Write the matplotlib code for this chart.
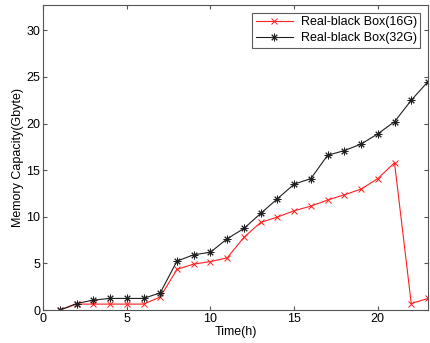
import matplotlib
matplotlib.use('Agg')
import matplotlib.pyplot as plt

plt.rcParams.update({
    'font.family': 'Liberation Sans', 'font.size': 9,
    'xtick.direction': 'in', 'ytick.direction': 'in',
    'xtick.top': True, 'ytick.right': True,
    'xtick.major.size': 3, 'ytick.major.size': 3,
})

hours = list(range(1, 24))
box_16g = [0, 0.64, 0.64, 0.64, 0.64, 0.64, 1.4, 4.36, 4.93, 5.2, 5.6, 7.8,
           9.4, 9.97, 10.65, 11.15, 11.8, 12.36, 12.97, 14.1, 15.8, 0.7, 1.25]
box_32g = [0, 0.7, 1.07, 1.25, 1.25, 1.25, 1.85, 5.25, 5.93, 6.2, 7.65, 8.75,
           10.36, 11.93, 13.5, 14.1, 16.6, 17.1, 17.8, 18.9, 20.2, 22.5, 24.5]

fig = plt.figure(figsize=(4.31, 3.43), dpi=100)
ax = fig.add_axes([0.1, 0.096, 0.893, 0.889])

asterisk = (8, 2, 0)
ax.plot(hours, box_16g, color='#ff2020', marker='x', markersize=4.5, linewidth=0.8,
        markeredgewidth=0.7, label='Real-black Box(16G)')
ax.plot(hours, box_32g, color='#202020', marker=asterisk, markersize=5.5, linewidth=0.8,
        markeredgewidth=0.7, label='Real-black Box(32G)')

ax.set_xlim(0, 23)
ax.set_ylim(0, 32.7)
ax.set_xticks([0, 5, 10, 15, 20])
ax.set_yticks([0, 5, 10, 15, 20, 25, 30])
ax.set_xlabel('Time(h)', labelpad=1)
ax.set_ylabel('Memory Capacity(Gbyte)', labelpad=2)
for s in ax.spines.values():
    s.set_color('#555555')
    s.set_linewidth(0.8)
ax.tick_params(colors='#555555', labelcolor='black', pad=2)

leg = ax.legend(loc='upper right', fancybox=False, edgecolor='#333333',
                borderaxespad=0.6, handlelength=3, borderpad=0.3, labelspacing=0.3,
                handletextpad=0.6, fontsize=9)
leg.get_frame().set_linewidth(0.8)

fig.savefig('out.png', dpi=100)
